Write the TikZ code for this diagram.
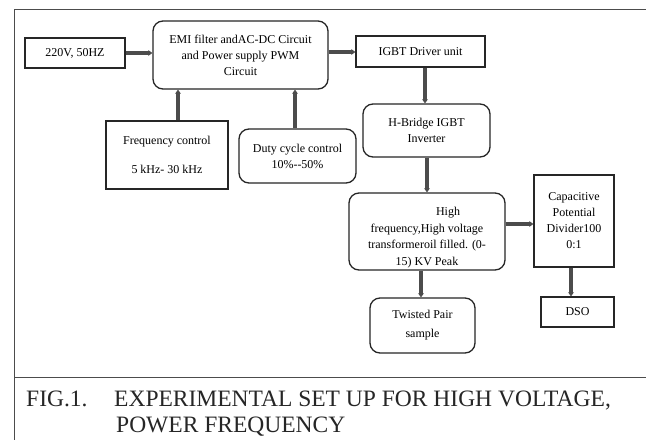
\documentclass[tikz,border=0pt]{standalone}
\usepackage{fontspec}
\setmainfont{Liberation Serif}
\usetikzlibrary{arrows.meta}
\tikzset{
  sqbox/.style={draw=black!85, line width=1.3pt, inner sep=0pt, align=center,
    font=\fontsize{12}{16}\selectfont},
  rbox/.style={sqbox, rounded corners=10pt},
  flow/.style={draw=black!70, line width=3.2pt,
    -{Triangle[length=4pt,width=5.5pt]}},
  framelines/.style={draw=black!70, line width=0.9pt},
  captext/.style={anchor=base west, inner sep=0pt, font=\fontsize{23.5}{26}\selectfont, text=black!85}
}
\begin{document}
\begin{tikzpicture}[x=1pt,y=-1pt]
\useasboundingbox (0,0) rectangle (646,440);
\fill[white] (0,0) rectangle (646,440);
% frame
\draw[framelines] (646,9) -- (14,9) -- (14,440);
\draw[framelines] (14,377) -- (646,377);

\node[sqbox, minimum width=100pt, minimum height=30pt] (src) at (75,53) {220V, 50HZ};
\node[rbox, minimum width=175pt, minimum height=68pt] (emi) at (240.5,55)
  {EMI filter andAC-DC Circuit\\and Power supply PWM\\Circuit};
\node[sqbox, minimum width=122pt, minimum height=68pt] (freq) at (167,155)
  {Frequency control\\[13pt]5 kHz- 30 kHz};
\node[rbox, minimum width=117pt, minimum height=54pt] (duty) at (297.5,156)
  {Duty cycle control\\10\%{-}{-}50\%};
\node[sqbox, minimum width=129pt, minimum height=31pt] (igbt) at (420.5,51.5) {IGBT Driver unit};
\node[rbox, minimum width=127pt, minimum height=53pt] (hb) at (426.5,130.5)
  {H-Bridge IGBT\\Inverter};
\node[rbox, minimum width=156pt, minimum height=77pt] (tr) at (427,231.5) {};
\node[inner sep=0pt, align=center, font=\fontsize{12}{16.5}\selectfont] (trtext) at (427,237.5)
  {\hspace*{42pt}High\\frequency,High voltage\\transformeroil filled. (0-\\15) KV Peak};
\node[sqbox, minimum width=80pt, minimum height=92pt] (capd) at (574,221)
  {Capacitive\\Potential\\Divider100\\0:1};
\node[sqbox, minimum width=73pt, minimum height=30pt] (dso) at (577.5,312) {DSO};
\node[rbox, minimum width=105pt, minimum height=55pt] (tp) at (422.5,325.5)
  {Twisted Pair\\[3pt]sample};

% connectors
\draw[flow] (src.east) -- (emi.west |- src.east);
\draw[flow] (freq.north -| 178,0) -- (emi.south -| 178,0);
\draw[flow] (duty.north -| 295,0) -- (emi.south -| 295,0);
\draw[flow] (emi.east |- 0,52) -- (igbt.west |- 0,52);
\draw[flow] (igbt.south -| 425,0) -- (hb.north -| 425,0);
\draw[flow] (hb.south -| 427,0) -- (tr.north -| 427,0);
\draw[flow] (tr.east |- 0,224) -- (capd.west |- 0,224);
\draw[flow] (tr.south -| 421,0) -- (tp.north -| 421,0);
\draw[flow] (capd.south -| 571,0) -- (dso.north -| 571,0);

% caption
\node[captext] (fig) at (26,406) {FIG.1.};
\node[captext] (cap1) at (114,406) {EXPERIMENTAL SET UP FOR HIGH VOLTAGE,};
\node[captext] (cap2) at (116,432) {POWER FREQUENCY};
\end{tikzpicture}
\end{document}
